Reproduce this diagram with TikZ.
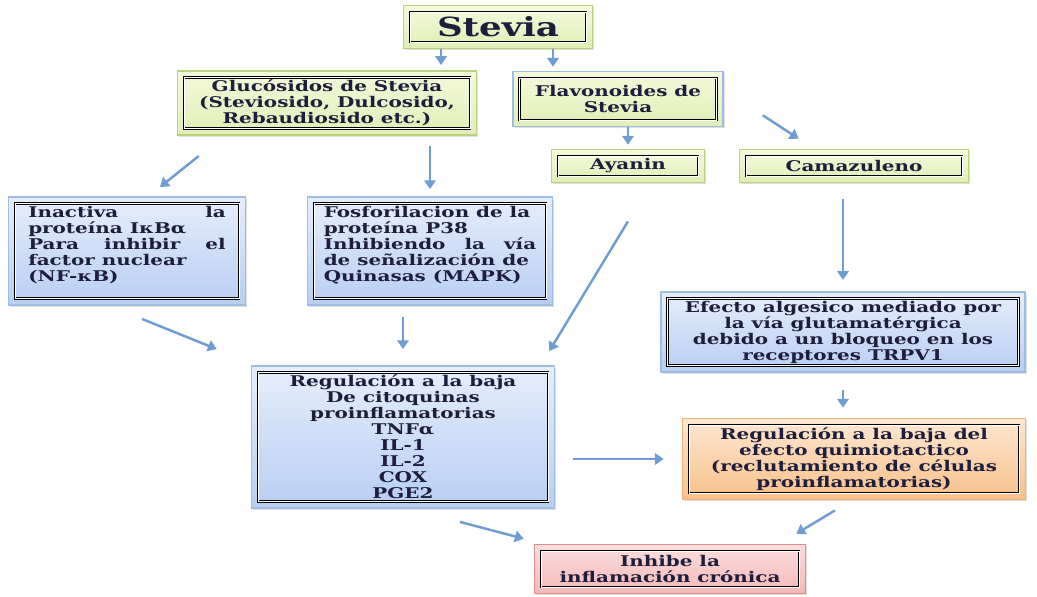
\documentclass[tikz,border=0pt]{standalone}
\usepackage{fontspec}
\setmainfont{DejaVu Serif}[FakeStretch=1.35]
\usetikzlibrary{arrows.meta,fit,backgrounds,shadows}
\definecolor{txt}{HTML}{1E1E3C}
\definecolor{arrowblue}{HTML}{6F9DD3}
\definecolor{greentop}{HTML}{F4F9DC}
\definecolor{greenbot}{HTML}{E1EEB5}
\definecolor{greenedge}{HTML}{B9D27E}
\definecolor{bluetop}{HTML}{E6EEFC}
\definecolor{bluebot}{HTML}{B7CEF2}
\definecolor{blueedge}{HTML}{9DBCE6}
\definecolor{orangetop}{HTML}{FDE8D2}
\definecolor{orangebot}{HTML}{F8C08A}
\definecolor{orangeedge}{HTML}{F3B07A}
\definecolor{pinktop}{HTML}{FBDEDE}
\definecolor{pinkbot}{HTML}{F4B8B8}
\definecolor{pinkedge}{HTML}{DE8E8E}
\newcommand\topblock[2]{\parbox[t][1.8cm][t]{#1}{\raggedright #2}}
\begin{document}
\begin{tikzpicture}[x=0.02cm, y=-0.02cm,
  box/.style={draw=black, double, double distance=0.5pt, line width=0.5pt, inner sep=1.5pt,
    text=txt, font=\fontsize{8.4}{9.1}\selectfont\bfseries, align=center},
  frame/.style 2 args={draw=#2, line width=1pt, top color=#1top, bottom color=#1bot,
    inner sep=0.12cm, drop shadow={shadow xshift=1pt, shadow yshift=-1pt, opacity=.25}},
  arr/.style={draw=arrowblue, line width=1.4pt, -{Triangle[length=5pt,width=6.5pt]}}]
\useasboundingbox (0,0) rectangle (1037,596);
\node[box, minimum width=3.52cm, minimum height=0.6cm, font=\fontsize{15}{18}\selectfont\bfseries] (stevia) at (498,27) {Stevia};
\node[box, minimum width=5.72cm, minimum height=0.92cm] (gluc) at (327,103) {Glucósidos de Stevia\\(Steviosido, Dulcosido,\\Rebaudiosido etc.)};
\node[box, minimum width=3.94cm, minimum height=0.84cm] (flav) at (618,99) {Flavonoides de\\Stevia};
\node[box, minimum width=2.8cm, minimum height=0.4cm] (ayanin) at (628,166) {Ayanin};
\node[box, minimum width=4.32cm, minimum height=0.4cm] (cama) at (854,166) {Camazuleno};
\node[box, minimum width=4.48cm] (inact) at (127,251)
  {\topblock{3.95cm}{Inactiva\hfill la\\proteína IκBα\\Para\hfill inhibir\hfill el\\factor nuclear\\(NF-κB)}};
\node[box, minimum width=4.64cm] (fosfo) at (430,251)
  {\topblock{4.25cm}{Fosforilacion de la\\proteína P38\\Inhibiendo\hfill la\hfill vía\\de señalización de\\Quinasas (MAPK)}};
\node[box, minimum width=7.02cm, minimum height=1.2cm] (efecto) at (843,332)
  {Efecto algesico mediado por\\la vía glutamatérgica\\debido a un bloqueo en los\\receptores TRPV1};
\node[box, minimum width=5.8cm, minimum height=2.48cm] (regul) at (403,437)
  {Regulación a la baja\\De citoquinas\\proinflamatorias\\TNFα\\IL-1\\IL-2\\COX\\PGE2};
\node[box, minimum width=6.6cm, minimum height=1.32cm] (quimio) at (854,459)
  {Regulación a la baja del\\efecto quimiotactico\\(reclutamiento de células\\proinflamatorias)};
\node[box, minimum width=5.16cm, minimum height=0.72cm] (inhibe) at (670,569) {Inhibe la\\inflamación crónica};
\begin{scope}[on background layer]
  \foreach \n/\c/\e in {stevia/green/greenedge, gluc/green/greenedge, flav/green/blueedge,
      ayanin/green/greenedge, cama/green/greenedge, inact/blue/blueedge, fosfo/blue/blueedge,
      efecto/blue/blueedge, regul/blue/blueedge, quimio/orange/orangeedge, inhibe/pink/pinkedge}
    \node[frame={\c}{\e}, fit=(\n)] (\n-f) {};
\end{scope}
\draw[arr, shorten >=.1cm] ([xshift=-1.14cm]stevia-f.south) coordinate (s1) -- (s1 |- gluc-f.north);
\draw[arr, shorten >=.08cm] ([xshift=1.1cm]stevia-f.south) coordinate (s2) -- (s2 |- flav-f.north);
\draw[arr, shorten >=.08cm] (flav-f.south -| ayanin-f.north) -- (ayanin-f.north);
\draw[arr] ([xshift=.78cm,yshift=.24cm]flav-f.south east) -- ([xshift=1.2cm,yshift=.2cm]cama-f.north west);
\draw[arr] ([xshift=.44cm,yshift=-.4cm]gluc-f.south west) -- ([xshift=.66cm,yshift=.18cm]inact-f.north);
\draw[arr, shorten <=.2cm, shorten >=.14cm] (gluc-f.south -| fosfo-f.north) -- (fosfo-f.north);
\draw[arr] ([xshift=.3cm,yshift=-.26cm]inact-f.south) -- ([xshift=-.68cm,yshift=.32cm]regul-f.north west);
\draw[arr, shorten <=.22cm, shorten >=.32cm] (fosfo-f.south -| regul-f.north) -- (regul-f.north);
\draw[arr] ([yshift=-.76cm]ayanin-f.south) -- ([xshift=-.12cm,yshift=.28cm]regul-f.north east);
\draw[arr, shorten <=.32cm, shorten >=.22cm] (cama-f.south -| efecto-f.north) -- (efecto-f.north);
\draw[arr, shorten <=.34cm, shorten >=.2cm] (efecto-f.south) -- (efecto-f.south |- quimio-f.north);
\draw[arr, shorten <=.36cm, shorten >=.36cm] (quimio-f.west -| regul-f.east) -- (quimio-f.west);
\draw[arr] ([xshift=1.14cm,yshift=-.26cm]regul-f.south) -- ([xshift=-.2cm,yshift=.1cm]inhibe-f.north west);
\draw[arr] ([xshift=-.38cm,yshift=-.2cm]quimio-f.south) -- ([xshift=-.2cm,yshift=.2cm]inhibe-f.north east);
\end{tikzpicture}
\end{document}
